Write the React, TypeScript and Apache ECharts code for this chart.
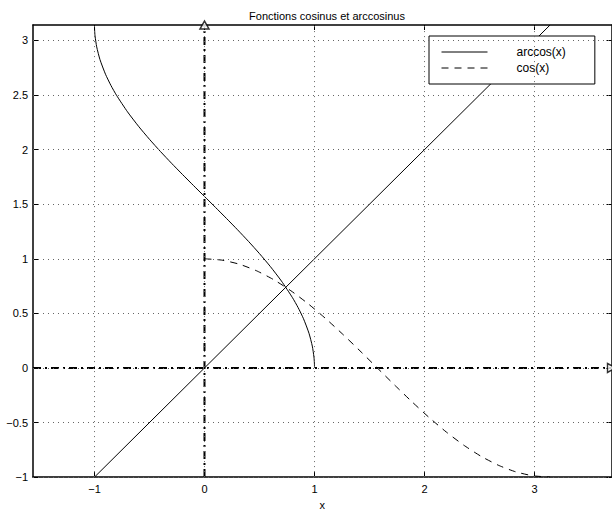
import React, { useEffect, useRef } from "react";
import * as echarts from "echarts";

// Axis limits (equal scaling on both axes)
const X_MIN = -1.559;
const X_MAX = 3.7;
const Y_MIN = -1;
const Y_MAX = 3.1416;

const xTicks = [-1, 0, 1, 2, 3];
const yTicks = [-1, -0.5, 0, 0.5, 1, 1.5, 2, 2.5, 3];

// arccos(x) sampled on [-1, 1]
const arccosX = [
  -1, -0.999, -0.995, -0.98, -0.95, -0.9, -0.85, -0.8, -0.7, -0.6, -0.5, -0.4, -0.3, -0.2, -0.1,
  0, 0.1, 0.2, 0.3, 0.4, 0.5, 0.6, 0.7, 0.8, 0.85, 0.9, 0.95, 0.98, 0.995, 0.999, 1,
];
const arccosY = [
  3.1416, 3.0969, 3.0416, 2.9413, 2.824, 2.6906, 2.5868, 2.4981, 2.3462, 2.2143, 2.0944, 1.9823,
  1.8755, 1.7722, 1.671, 1.5708, 1.4706, 1.3694, 1.2661, 1.1593, 1.0472, 0.9273, 0.7954, 0.6435,
  0.5548, 0.451, 0.3176, 0.2003, 0.1, 0.0447, 0,
];

// cos(x) sampled on [0, pi]
const cosX = [
  0, 0.1571, 0.3142, 0.4712, 0.6283, 0.7854, 0.9425, 1.0996, 1.2566, 1.4137, 1.5708, 1.7279,
  1.885, 2.042, 2.1991, 2.3562, 2.5133, 2.6704, 2.8274, 2.9845, 3.1416,
];
const cosY = [
  1, 0.9877, 0.9511, 0.891, 0.809, 0.7071, 0.5878, 0.454, 0.309, 0.1564, 0, -0.1564, -0.309,
  -0.454, -0.5878, -0.7071, -0.809, -0.891, -0.9511, -0.9877, -1,
];

// the bisector y = x
const bisectorX = [-1, 3.1416];
const bisectorY = [-1, 3.1416];

const FONT = "Liberation Sans, Arial, Helvetica, sans-serif";
const fmt = (v: number) => String(v).replace("-", "\u2212");
const zip = (xs: number[], ys: number[]) => xs.map((x, i) => [x, ys[i]]);

export default function App() {
  const ref = useRef<HTMLDivElement>(null);

  useEffect(() => {
    if (!ref.current) return;
    const chart = echarts.init(ref.current, null, { renderer: "svg" });

    const frameLine = { show: true, onZero: false, lineStyle: { color: "#000", width: 1.5 } };
    const tick = (vals: number[]) => ({
      show: true,
      inside: true,
      length: 5,
      customValues: vals,
      lineStyle: { color: "#000", width: 1 },
    });
    const label = (vals: number[], margin: number) => ({
      show: true,
      customValues: vals,
      formatter: (v: number) => fmt(v),
      color: "#000",
      fontSize: 11,
      fontFamily: FONT,
      margin,
    });
    const dotted = { color: "#666", width: 1, type: [1, 4] as number[] };
    const dashDot = { color: "#000", width: 2, type: [8, 4, 2, 4] as number[] };

    chart.setOption({
      animation: false,
      backgroundColor: "#fff",
      title: {
        text: "Fonctions cosinus et arccosinus",
        left: 322,
        textAlign: "center",
        top: 5,
        textStyle: { fontSize: 11, fontWeight: "normal", color: "#000", fontFamily: FONT },
      },
      grid: { left: 33, top: 25, width: 578.5, height: 455.7, containLabel: false },
      legend: {
        data: ["arccos(x)", "cos(x)"],
        orient: "vertical",
        left: 429,
        top: 36,
        itemWidth: 46,
        itemHeight: 14,
        itemGap: 4,
        padding: [10, 29, 10, 12],
        borderColor: "#000",
        borderWidth: 1,
        backgroundColor: "#fff",
        itemStyle: { color: "rgba(0,0,0,0)", borderColor: "rgba(0,0,0,0)", borderWidth: 0 },
        lineStyle: { width: 1, color: "#000" },
        textStyle: { fontSize: 12, color: "#000", fontFamily: FONT, padding: [0, 0, 0, 24] },
      },
      xAxis: [
        {
          type: "value",
          min: X_MIN,
          max: X_MAX,
          position: "bottom",
          axisLine: frameLine,
          axisTick: tick(xTicks),
          axisLabel: label(xTicks, 6),
          splitLine: { show: false },
          name: "x",
          nameLocation: "middle",
          nameGap: 21,
          nameTextStyle: { fontSize: 11, color: "#000", fontFamily: FONT },
        },
        {
          type: "value",
          min: X_MIN,
          max: X_MAX,
          position: "top",
          axisLine: frameLine,
          axisTick: tick(xTicks),
          axisLabel: { show: false },
          splitLine: { show: false },
        },
      ],
      yAxis: [
        {
          type: "value",
          min: Y_MIN,
          max: Y_MAX,
          position: "left",
          axisLine: frameLine,
          axisTick: tick(yTicks),
          axisLabel: label(yTicks, 5),
          splitLine: { show: false },
        },
        {
          type: "value",
          min: Y_MIN,
          max: Y_MAX,
          position: "right",
          axisLine: frameLine,
          axisTick: tick(yTicks),
          axisLabel: { show: false },
          splitLine: { show: false },
        },
      ],
      series: [
        {
          // dotted grid
          name: "grid",
          type: "line",
          data: [],
          silent: true,
          markLine: {
            silent: true,
            symbol: "none",
            label: { show: false },
            lineStyle: dotted,
            data: [
              ...xTicks.map((v) => ({ xAxis: v })),
              ...yTicks.map((v) => ({ yAxis: v })),
            ],
          },
        },
        {
          // horizontal axis y = 0
          name: "axe-x",
          type: "line",
          data: [
            [X_MIN, 0],
            [X_MAX, 0],
          ],
          symbol: "none",
          silent: true,
          lineStyle: dashDot,
        },
        {
          // vertical axis x = 0
          name: "axe-y",
          type: "line",
          data: [
            [0, Y_MIN],
            [0, Y_MAX],
          ],
          symbol: "none",
          silent: true,
          lineStyle: dashDot,
        },
        {
          name: "bisectrice",
          type: "line",
          data: zip(bisectorX, bisectorY),
          symbol: "none",
          silent: true,
          lineStyle: { color: "#000", width: 1 },
        },
        {
          name: "arccos(x)",
          type: "line",
          data: zip(arccosX, arccosY),
          symbol: "none",
          symbolSize: 0,
          smooth: 0.2,
          lineStyle: { color: "#000", width: 1 },
          itemStyle: { color: "#000" },
        },
        {
          name: "cos(x)",
          type: "line",
          data: zip(cosX, cosY),
          symbol: "none",
          symbolSize: 0,
          smooth: 0.2,
          lineStyle: { color: "#000", width: 1, type: [7, 6] },
          itemStyle: { color: "#000" },
        },
        {
          // arrow heads at the ends of the axes
          name: "fleches",
          type: "scatter",
          silent: true,
          clip: false,
          symbol: "triangle",
          symbolSize: [9, 8],
          itemStyle: { color: "#fff", borderColor: "#000", borderWidth: 1.5 },
          data: [
            { value: [0, Y_MAX], symbolRotate: 0 },
            { value: [X_MAX, 0], symbolRotate: -90 },
          ],
          z: 5,
        },
      ],
    });

    return () => chart.dispose();
  }, []);

  return (
    <div
      ref={ref}
      style={{ position: "fixed", left: 0, top: 0, width: 612, height: 515, background: "#fff" }}
    />
  );
}
